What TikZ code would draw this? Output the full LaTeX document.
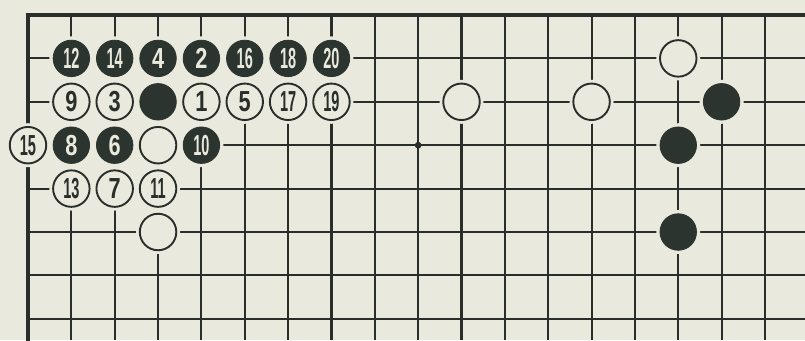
\documentclass[tikz,border=0pt]{standalone}
\usepackage{fontspec}
\setmainfont{Liberation Sans}
\definecolor{paper}{HTML}{E9E9DD}
\definecolor{ink}{HTML}{2A2E2A}
\definecolor{stoneblk}{HTML}{2C342F}
\tikzset{
  gridline/.style={draw=ink, line width=2.1pt},
  edgeline/.style={draw=ink, line width=3.4pt},
  halo/.style={circle, fill=paper, minimum size=44pt, inner sep=0pt},
  wstone/.style={circle, draw=ink, fill=paper, line width=1.9pt, minimum size=36.5pt, inner sep=0pt, text=ink, font=\fontsize{29}{29}\selectfont\bfseries},
  bstone/.style={circle, draw=stoneblk, fill=stoneblk, line width=0.8pt, minimum size=36.5pt, inner sep=0pt, text=paper, font=\fontsize{29}{29}\selectfont\bfseries},
}
\newcommand{\one}[1]{\scalebox{0.75}[1]{#1}}
\newcommand{\two}[1]{\scalebox{0.5}[1]{#1}}
\newcommand{\px}[1]{28+43.35*#1}
\newcommand{\py}[1]{15+43.4*#1}
\newcommand{\W}[4]{\node[halo] at ({\px{#1}},{\py{#2}}) {}; \node[wstone] (#3) at ({\px{#1}},{\py{#2}}) {#4};}
\newcommand{\B}[4]{\node[halo] at ({\px{#1}},{\py{#2}}) {}; \node[bstone] (#3) at ({\px{#1}},{\py{#2}}) {#4};}
\begin{document}
\begin{tikzpicture}[x=1pt,y=-1pt]
\fill[paper] (0,0) rectangle (805,340);
\useasboundingbox (0,0) rectangle (805,340);
% grid
\foreach \r in {1,...,7} \draw[gridline] ({\px{0}},{\py{\r}}) -- (805,{\py{\r}});
\foreach \c in {1,...,17} \draw[gridline] ({\px{\c}},{\py{0}}) -- ({\px{\c}},340);
\draw[edgeline, line cap=rect] (805,{\py{0}}) -- ({\px{0}},{\py{0}}) -- ({\px{0}},340);
% star point
\fill[ink] ({\px{9}},{\py{3}}) circle (3.4);
% row 1
\B{1}{1}{b12}{\two{12}}
\B{2}{1}{b14}{\two{14}}
\B{3}{1}{b4}{\one{4}}
\B{4}{1}{b2}{\one{2}}
\B{5}{1}{b16}{\two{16}}
\B{6}{1}{b18}{\two{18}}
\B{7}{1}{b20}{\two{20}}
\W{15}{1}{wa}{}
% row 2
\W{1}{2}{w9}{\one{9}}
\W{2}{2}{w3}{\one{3}}
\B{3}{2}{ba}{}
\W{4}{2}{w1}{\one{1}}
\W{5}{2}{w5}{\one{5}}
\W{6}{2}{w17}{\two{17}}
\W{7}{2}{w19}{\two{19}}
\W{10}{2}{wb}{}
\W{13}{2}{wc}{}
\B{16}{2}{bb}{}
% row 3
\W{0}{3}{w15}{\two{15}}
\B{1}{3}{b8}{\one{8}}
\B{2}{3}{b6}{\one{6}}
\W{3}{3}{wd}{}
\B{4}{3}{b10}{\two{10}}
\B{15}{3}{bc}{}
% row 4
\W{1}{4}{w13}{\two{13}}
\W{2}{4}{w7}{\one{7}}
\W{3}{4}{w11}{\two{11}}
% row 5
\W{3}{5}{we}{}
\B{15}{5}{bd}{}
\end{tikzpicture}
\end{document}
